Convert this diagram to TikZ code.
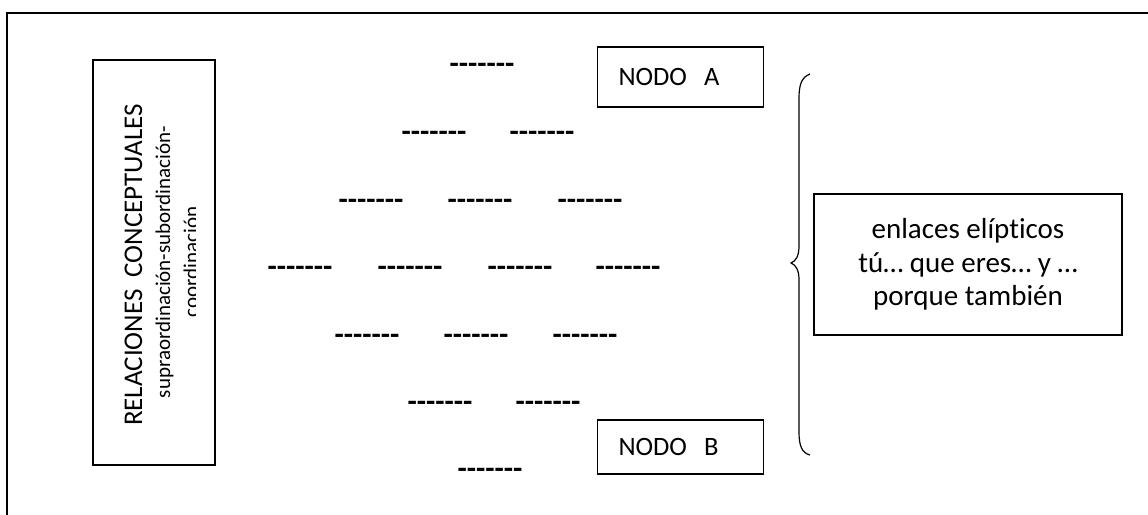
\documentclass[tikz,border=0pt]{standalone}
\usepackage{fontspec}
\setmainfont{Carlito}[Ligatures={TeXOff,NoCommon}]
\newfontfamily\dashfont{Carlito}[Ligatures={TeXOff,NoCommon}]
\begin{document}
\begin{tikzpicture}[x=1pt,y=-1pt,
  frame/.style={line width=2.3pt},
  boxed/.style={draw, line width=1.3pt, inner sep=0pt},
  dsh/.style={anchor=base, inner sep=0pt, font=\dashfont\bfseries\fontsize{30.3}{36}\selectfont},
  nodo/.style={boxed, minimum width=166pt, minimum height=#1, text width=124pt, align=left, inner xsep=21pt, font=\fontsize{26.5}{31}\selectfont},
  vtext/.style={rotate=90, anchor=base, inner sep=0pt},
]
\useasboundingbox (0,0) rectangle (1148,514);
% outer frame (only left and top edges visible)
\draw[frame] (7,516) -- (7,13) -- (1150,13);

% left box
\node[boxed, minimum width=122pt, minimum height=405pt] (rc) at (154,262.5) {};
\node[vtext, font=\fontsize{27}{32}\selectfont] (rel) at (142,265) {RELACIONES\ \ CONCEPTUALES};
\node[vtext, font=\fontsize{21}{25}\selectfont] (sub) at (170,262) {supraordinación-subordinación-};
\begin{scope}
  \clip (93,60) rectangle (195.5,465);
  \node[vtext, font=\fontsize{21}{25}\selectfont] (coo) at (198,262) {coordinación};
\end{scope}

% nodes A and B
\node[nodo=60pt] (A) at (680.5,77) {NODO\hspace{0.65em}A};
\node[nodo=54pt] (B) at (680.5,447) {NODO\hspace{0.65em}B};

% dashes
\node[dsh] (d1) at (482,73) {-------};
\node[dsh] (d21) at (434,141) {-------};
\node[dsh] (d22) at (542,141) {-------};
\node[dsh] (d31) at (371,209) {-------};
\node[dsh] (d32) at (480,209) {-------};
\node[dsh] (d33) at (590,209) {-------};
\node[dsh] (d41) at (300,276) {-------};
\node[dsh] (d42) at (410,276) {-------};
\node[dsh] (d43) at (520,276) {-------};
\node[dsh] (d44) at (628,276) {-------};
\node[dsh] (d51) at (367,344) {-------};
\node[dsh] (d52) at (476,344) {-------};
\node[dsh] (d53) at (585,344) {-------};
\node[dsh] (d61) at (440,411) {-------};
\node[dsh] (d62) at (548,411) {-------};
\node[dsh] (d7) at (490,478) {-------};

% brace
\draw[line width=1.2pt] (810,74) .. controls (802,77) and (799,84) .. (799,98) -- (799,246)
  .. controls (799,256) and (796,261) .. (791,263)
  .. controls (796,265) and (799,270) .. (799,280) -- (799,432)
  .. controls (799,446) and (802,453) .. (810,455);

% right box
\node[boxed, minimum width=308pt, minimum height=141pt, align=center, font=\fontsize{29}{33.5}\selectfont] (el) at (968,264.5) {enlaces elípticos\\tú… que eres… y …\\porque también};
\end{tikzpicture}
\end{document}
